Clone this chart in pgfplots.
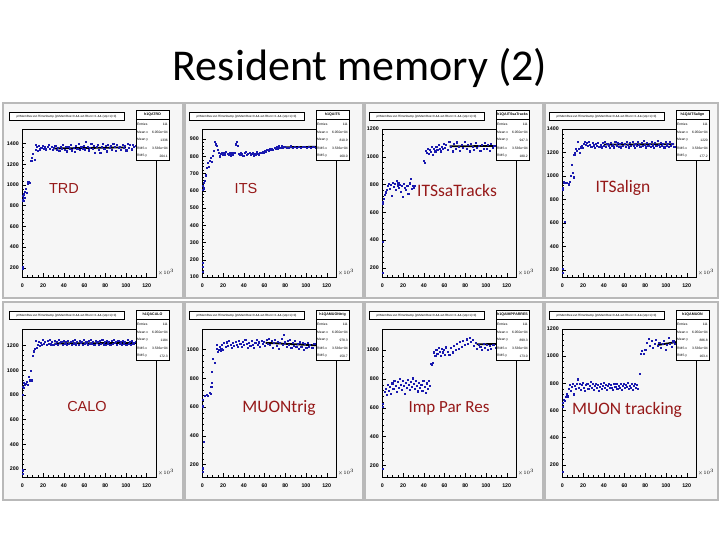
\documentclass[border=0pt]{standalone}
\usepackage{fontspec}
\setmainfont{Liberation Sans}
\newfontfamily\calibri{Carlito}
\usepackage{pgfplots}
\pgfplotsset{compat=1.18}
\definecolor{ptblue}{RGB}{25,25,175}
\definecolor{lab}{RGB}{150,25,25}
\definecolor{padbg}{RGB}{246,246,246}
\definecolor{padedge}{RGB}{185,185,185}

\pgfplotsset{
 rootax/.style={
  scale only axis, width=133.7pt, height=148pt, anchor=south west,
  xmin=0, xmax=129, xtick={0,20,...,120},
  minor x tick num=3, minor y tick num=4,
  tick align=inside, xtick pos=left, ytick pos=left,
  major tick length=3.5pt, minor tick length=1.8pt,
  every tick/.style={black, line width=0.35pt},
  axis line style={line width=0.45pt},
  ticklabel style={font=\fontsize{5.3}{6}\selectfont\bfseries, text=black},
  xticklabel style={yshift=-3pt},
  /pgf/number format/assume math mode=true,
  /pgf/number format/1000 sep={},
  clip=false,
 },
 pts/.style={only marks, mark=square*, mark size=0.55pt, color=ptblue, mark options={draw=ptblue, fill=ptblue}},
 blk/.style={black, line width=1.8pt, mark=none},
}

\newcommand{\xten}{\node[anchor=south west, font=\fontsize{5}{5}\selectfont, inner sep=0.3pt] at (rel axis cs:1.01,0.01) {$\times10^{3}$};}

\newcommand{\pad}[4]{\draw[padedge, line width=1.1pt, fill=padbg] (#1,#2) rectangle (#3,#4);}

\newcommand{\titlebox}[1]{%
 \begin{scope}[shift={#1}]
  \draw[line width=0.45pt, fill=white] (0,0) rectangle (115,-8.5);
  \node[font=\fontsize{3}{3}\selectfont, inner sep=0pt] at (57.5,-4.25) {pVMemRes:evt.fTimeStamp \{pVMemRes>0 \&\& evt.fRun==1 \&\& (stp+1)>0\}};
 \end{scope}}

\newcommand{\stats}[7]{%
 \begin{scope}[shift={#1}, font=\fontsize{3.3}{3.5}\selectfont]
  \fill[gray!60] (1.3,-51.3) rectangle (34.3,-1.3);
  \draw[line width=0.45pt, fill=white] (0,0) rectangle (33,-50);
  \draw[line width=0.3pt] (0,-9) -- (33,-9);
  \node[inner sep=0pt, font=\fontsize{3.6}{4}\selectfont\bfseries] at (16.5,-4.5) {#2};
  \node[anchor=west, inner sep=0pt] at (1,-14) {Entries};
  \node[anchor=east, inner sep=0pt] at (32,-14) {#3};
  \node[anchor=west, inner sep=0pt] at (1,-22) {Mean x};
  \node[anchor=east, inner sep=0pt] at (32,-22) {#4};
  \node[anchor=west, inner sep=0pt] at (1,-30) {Mean y};
  \node[anchor=east, inner sep=0pt] at (32,-30) {#5};
  \node[anchor=west, inner sep=0pt] at (1,-38) {RMS x};
  \node[anchor=east, inner sep=0pt] at (32,-38) {#6};
  \node[anchor=west, inner sep=0pt] at (1,-46) {RMS y};
  \node[anchor=east, inner sep=0pt] at (32,-46) {#7};
 \end{scope}}

\begin{document}
\begin{tikzpicture}[x=1pt,y=1pt]
\path[use as bounding box, fill=white] (0,0) rectangle (720,540);

\node[font=\calibri\fontsize{44}{48}\selectfont] at (360,472) {Resident memory (2)};

% pads
\pad{3}{242}{183}{437}
\pad{185}{242}{363}{437}
\pad{365}{242}{543}{437}
\pad{545}{242}{718}{437}
\pad{3}{40}{183}{238}
\pad{185}{40}{363}{238}
\pad{365}{40}{543}{238}
\pad{545}{40}{718}{238}

% ---------- TRD ----------
\begin{axis}[rootax, at={(22.3pt,263pt)}, ymin=110, ymax=1540, ytick={200,400,...,1400}]
\addplot[pts] coordinates {(0.2,205) (0.4,190) (0.3,860) (0.6,895) (0.9,850) (1.3,910) (1.8,880) (2.5,935) (3.2,960) (4.0,925) (4.8,1030) (5.6,1015) (6.5,1030) (7.4,1020) (8.6,1230) (9.5,1265) (10.4,1300) (11.6,1245) (12.5,1390) (13.3,1340) (14.2,1365) (15.0,1330) (16.1,1375) (17.0,1345) (18.2,1360) (19.5,1380) (20.6,1350) (21.8,1372) (23.0,1345) (24.3,1365) (25.5,1385) (26.7,1352) (28.0,1368) (29.2,1340) (30.5,1360) (31.7,1375) (33.0,1338) (34.4,1362) (35.6,1330) (36.8,1368) (38.1,1350) (39.3,1385) (40.6,1342) (41.8,1366) (43.1,1325) (44.3,1372) (45.6,1348) (46.8,1390) (48.0,1335) (49.3,1362) (50.5,1318) (51.8,1375) (53.0,1350) (54.3,1395) (55.5,1340) (56.8,1368) (58.0,1352) (59.3,1382) (60.5,1345) (61.5,1420) (62.8,1372) (64.0,1335) (65.3,1362) (66.5,1395) (67.8,1348) (69.0,1375) (70.2,1310) (71.5,1365) (72.7,1390) (74.0,1342) (75.2,1308) (76.5,1370) (77.7,1398) (79.0,1352) (80.2,1380) (81.5,1325) (82.7,1392) (84.0,1358) (85.2,1375) (86.5,1340) (87.7,1398) (89.0,1365) (90.2,1330) (91.5,1385) (92.7,1355) (94.0,1372) (95.2,1340) (96.5,1392) (97.7,1358) (99.0,1378) (100.2,1335) (101.5,1400) (102.7,1360) (104.0,1385) (105.2,1345) (106.5,1390) (107.7,1365) (109.0,1380) (110.2,1350)};
\addplot[blk] coordinates {(30,1352) (100,1362)};
\xten
\end{axis}

% ---------- ITS ----------
\begin{axis}[rootax, at={(202.3pt,263pt)}, ymin=100, ymax=958, ytick={100,200,...,900}]
\addplot[pts] coordinates {(0.2,130) (0.3,160) (0.5,185) (0.3,605) (0.6,630) (1.0,645) (1.5,615) (2.2,660) (3.0,690) (4.5,735) (5.5,760) (6.3,740) (7.2,775) (8.1,790) (9.0,770) (10.0,805) (11.0,830) (12.0,885) (13.0,870) (14.0,860) (15.0,840) (15.8,820) (16.8,800) (17.8,815) (18.8,822) (19.8,808) (21.0,818) (22.0,812) (23.0,825) (24.2,815) (25.3,810) (26.4,820) (27.5,806) (28.6,818) (29.7,812) (30.8,822) (32.0,870) (33.0,885) (33.8,860) (34.8,815) (36.0,808) (37.2,820) (38.4,812) (39.5,805) (40.6,818) (41.8,826) (43.0,810) (44.1,815) (45.3,822) (46.4,808) (47.6,814) (48.7,820) (49.8,806) (51.0,812) (52.2,824) (53.3,816) (54.5,810) (55.6,822) (56.8,818) (58.0,826) (59.1,820) (60.3,832) (61.4,826) (62.6,838) (63.7,830) (64.9,842) (66.0,836) (67.2,846) (68.3,838) (69.5,850) (70.6,842) (71.8,856) (72.9,846) (74.1,858) (75.2,848) (76.4,860) (77.5,852) (79,855) (81,848) (83,852) (85,858) (87,850) (89,855) (91,852) (93,856) (95,850) (97,853) (99,857) (101,851) (103,854) (105,850) (107,856) (109,852)};
\addplot[blk] coordinates {(77,852) (112,855)};
\xten
\end{axis}

% ---------- ITSsaTracks ----------
\begin{axis}[rootax, at={(382.3pt,263pt)}, ymin=135, ymax=1200, ytick={200,400,...,1200}]
\addplot[pts] coordinates {(0.2,165) (0.4,390) (0.3,665) (0.6,680) (1.2,700) (2.0,725) (3.0,745) (4.2,760) (5.0,790) (6.0,805) (7.0,770) (8.0,800) (9.0,720) (10.0,815) (10.8,785) (11.8,805) (12.6,760) (13.5,825) (14.5,795) (15.3,810) (16.2,775) (17.0,800) (18.0,750) (19.0,790) (20.0,710) (21.0,805) (22.0,780) (23.0,760) (24.0,795) (25.0,735) (26.0,810) (27.0,845) (28.0,770) (29.0,790) (30.0,775) (31.0,795) (40.0,975) (41.0,960) (42.0,1045) (43.0,1030) (44.0,1060) (45.0,1020) (46.0,1050) (47.0,1035) (48.0,1075) (49.0,1015) (50.0,1055) (51.0,1040) (52.0,1070) (53.0,1050) (54.0,1085) (55.0,1060) (56.0,1040) (57.0,1075) (58.0,1055) (59.0,1095) (60.0,1065) (61.5,1085) (63.0,1050) (64.5,1110) (66.0,1070) (67.5,1040) (69.0,1095) (70.5,1060) (72.0,1105) (73.5,1075) (75.0,1045) (76.5,1090) (78.0,1065) (79.5,1110) (81.0,1055) (82.5,1085) (84.0,1040) (85.5,1095) (87.0,1070) (88.5,1050) (90.0,1100) (91.5,1065) (93.0,1080) (94.5,1045) (96.0,1090) (97.5,1060) (99.0,1100) (100.5,1055) (102.0,1085) (103.5,1045) (105.0,1095) (106.5,1065) (108,1080) (110,1055)};
\addplot[blk] coordinates {(65,1075) (110,1078)};
\xten
\end{axis}

% ---------- ITSalign ----------
\begin{axis}[rootax, at={(562.3pt,263pt)}, ymin=140, ymax=1400, ytick={200,400,...,1400}]
\addplot[pts] coordinates {(0.2,180) (0.4,210) (0.3,880) (0.6,900) (1.0,940) (1.6,950) (2.4,610) (3.2,945) (4.5,940) (6.0,930) (7.0,955) (8.2,1000) (9.0,1095) (9.8,1030) (10.6,990) (11.5,1180) (12.3,1200) (13.2,1230) (14.0,1215) (14.8,1290) (15.7,1235) (16.6,1195) (17.5,1245) (18.5,1260) (19.5,1240) (20.5,1275) (21.5,1295) (22.5,1265) (23.6,1280) (24.6,1255) (25.7,1290) (26.8,1270) (27.9,1248) (29.0,1285) (30.1,1262) (31.2,1240) (32.3,1278) (33.4,1258) (34.5,1285) (35.6,1250) (36.7,1270) (37.8,1245) (38.9,1282) (40.0,1260) (41.1,1295) (42.2,1248) (43.3,1275) (44.4,1262) (45.5,1240) (46.6,1285) (47.7,1258) (48.8,1270) (49.9,1245) (51.0,1290) (52.1,1262) (53.2,1280) (54.3,1250) (55.4,1272) (56.5,1245) (57.6,1285) (58.7,1260) (59.8,1275) (60.9,1252) (62.0,1290) (63.1,1268) (64.2,1245) (65.3,1280) (66.4,1258) (67.5,1295) (68.6,1262) (69.7,1240) (70.8,1278) (71.9,1255) (73.0,1288) (74.1,1265) (75.2,1248) (76.3,1282) (77.4,1260) (78.5,1298) (79.6,1270) (80.7,1245) (81.8,1285) (82.9,1258) (84.0,1275) (85.1,1250) (86.2,1292) (87.3,1262) (88.4,1240) (89.5,1280) (90.6,1255) (91.7,1300) (92.8,1268) (93.9,1248) (95.0,1285) (96.1,1260) (97.2,1278) (98.3,1245) (99.4,1290) (100.5,1262) (101.6,1272) (102.7,1250) (103.8,1288) (104.9,1258) (106,1275) (108,1250) (110,1285)};
\addplot[blk] coordinates {(40,1268) (108,1270)};
\xten
\end{axis}

% ---------- CALO ----------
\begin{axis}[rootax, at={(22.3pt,63pt)}, ymin=135, ymax=1335, ytick={200,400,...,1200}]
\addplot[pts] coordinates {(0.2,160) (0.4,190) (0.3,805) (0.6,870) (1.0,900) (1.6,860) (2.4,880) (3.3,890) (4.5,905) (5.5,880) (6.5,945) (7.5,920) (8.4,995) (9.4,920) (10.3,1115) (11.2,1155) (12.1,1175) (13.0,1237) (14.0,1185) (15.0,1210) (16.0,1232) (17.0,1200) (18.0,1225) (19.0,1205) (20.0,1245) (21.0,1215) (22.0,1232) (23.2,1205) (24.3,1238) (25.4,1218) (26.5,1250) (27.6,1212) (28.7,1230) (29.8,1205) (30.9,1240) (32.0,1218) (33.1,1232) (34.2,1208) (35.3,1245) (36.4,1222) (37.5,1235) (38.6,1210) (39.7,1240) (40.8,1215) (41.9,1228) (43.0,1205) (44.1,1242) (45.2,1218) (46.3,1232) (47.4,1208) (48.5,1238) (49.6,1220) (50.7,1248) (51.8,1212) (52.9,1230) (54.0,1205) (55.1,1240) (56.2,1222) (57.3,1235) (58.4,1210) (59.5,1245) (60.6,1218) (61.7,1228) (62.8,1205) (63.9,1240) (65.0,1215) (66.1,1250) (67.2,1220) (68.3,1235) (69.4,1208) (70.5,1240) (71.6,1222) (72.7,1230) (73.8,1205) (74.9,1238) (76.0,1218) (77.1,1248) (78.2,1212) (79.3,1232) (80.4,1205) (81.5,1242) (82.6,1220) (83.7,1230) (84.8,1208) (85.9,1238) (87.0,1215) (88.1,1245) (89.2,1222) (90.3,1232) (91.4,1205) (92.5,1240) (93.6,1218) (94.7,1228) (95.8,1208) (96.9,1242) (98.0,1220) (99.1,1235) (100.2,1210) (101.3,1245) (102.4,1218) (103.5,1230) (104.6,1205) (105.7,1240) (107,1220) (109,1232)};
\addplot[blk] coordinates {(31,1218) (110,1222)};
\xten
\end{axis}

% ---------- MUONtrig ----------
\begin{axis}[rootax, at={(202.3pt,63pt)}, ymin=114, ymax=1142, ytick={200,400,...,1000}]
\addplot[pts] coordinates {(0.2,150) (0.4,175) (1.5,360) (0.3,600) (0.5,612) (0.3,648) (2.5,680) (4.0,688) (5.5,676) (7.0,700) (8.2,690) (8.6,742) (9.0,772) (9.5,845) (10.0,936) (12.0,910) (13.5,1005) (14.2,1030) (15.0,985) (15.8,1000) (16.6,1020) (17.4,990) (18.2,1008) (19.0,1035) (20.0,1000) (21.0,1045) (22.2,1020) (23.4,1050) (24.6,1028) (25.8,1058) (27.0,1035) (28.2,1012) (29.4,1048) (30.6,1025) (31.8,1055) (33.0,1032) (34.2,1018) (35.4,1060) (36.6,1038) (37.8,1022) (39.0,1052) (40.2,1030) (41.4,1065) (42.6,1040) (43.8,1015) (45.0,1048) (46.2,1028) (47.4,1058) (48.6,1035) (49.8,1012) (51.0,1045) (52.2,1070) (53.4,1032) (54.6,1050) (55.8,1020) (57.0,1062) (58.2,1038) (59.4,1055) (60.6,1025) (61.8,1068) (63.0,1042) (64.2,1075) (65.4,1030) (66.6,1058) (67.8,1012) (69.0,1048) (70.2,1066) (71.4,1028) (72.6,1052) (73.8,1008) (75.0,1045) (76.2,1072) (77.4,1035) (78.6,1105) (79.8,1050) (81.0,1022) (82.2,1058) (83.4,1030) (84.6,1065) (85.8,1010) (87.0,1045) (88.2,1028) (89.4,1060) (90.6,1018) (91.8,1040) (93.0,1005) (94.2,1050) (95.4,1022) (96.6,1045) (97.8,1000) (99.0,1038) (100.2,1012) (101.4,1048) (102.6,1020) (104,1035) (106,1010) (108,1042) (110,1018)};
\addplot[blk] coordinates {(61,1046) (111,1028)};
\xten
\end{axis}

% ---------- ImpParRes ----------
\begin{axis}[rootax, at={(382.3pt,63pt)}, ymin=120, ymax=1146, ytick={200,400,...,1000}]
\addplot[pts] coordinates {(0.2,180) (0.3,610) (0.5,625) (2.5,710) (3.5,735) (4.5,690) (5.5,760) (6.5,720) (7.5,745) (8.5,700) (9.5,770) (10.5,730) (11.5,790) (12.5,755) (13.5,710) (14.5,780) (15.5,740) (16.5,800) (17.5,760) (18.5,725) (19.5,785) (20.5,750) (21.5,700) (22.5,775) (23.5,740) (24.5,795) (25.5,760) (26.5,725) (27.5,780) (28.5,745) (29.5,805) (30.5,765) (31.5,730) (32.5,790) (33.5,750) (34.5,715) (35.5,775) (36.5,740) (37.5,760) (38.5,720) (39.5,785) (40.5,745) (41.5,705) (42.5,770) (43.5,735) (44.5,790) (45.5,750) (47.0,905) (48.0,900) (49.0,915) (50.0,985) (51.0,960) (52.0,1005) (53.0,975) (54.0,1015) (55.0,990) (56.0,960) (57.0,1010) (58.0,985) (59.0,1000) (60.0,970) (61.5,1020) (63.0,990) (64.5,965) (66.0,1015) (67.5,985) (69.0,1030) (70.5,1000) (72.0,1045) (73.5,1010) (75.0,1055) (76.5,1025) (78.0,1065) (79.5,1035) (81.0,1075) (82.5,1045) (84.0,1085) (85.5,1055) (87.0,1070) (88.5,1030) (90.0,1050) (91.5,1010) (93.0,1040) (94.5,1025) (96.0,1005) (97.5,1045) (99.0,1015) (100.5,1035) (102.0,1000) (103.5,1030) (105.0,1010) (107,1040) (109,1015)};
\addplot[blk] coordinates {(91,1040) (111,1042)};
\xten
\end{axis}

% ---------- MUON tracking ----------
\begin{axis}[rootax, at={(562.3pt,63pt)}, ymin=110, ymax=1200, ytick={200,400,...,1200}]
\addplot[pts] coordinates {(0.2,150) (0.3,630) (0.6,655) (1.2,680) (2.0,670) (3.0,700) (4.0,720) (5.0,705) (6.0,760) (7.0,790) (8.0,745) (9.0,775) (10.0,800) (11.0,720) (12.0,785) (13.0,760) (14.0,800) (15.0,830) (16.0,770) (17.0,800) (18.0,750) (19.0,790) (20.0,805) (21.0,770) (22.0,745) (23.0,790) (24.0,800) (25.0,760) (26.0,785) (27.0,810) (28.0,770) (29.0,795) (30.0,750) (31.0,780) (32.0,800) (33.0,765) (34.0,790) (35.0,745) (36.0,775) (37.0,800) (38.0,760) (39.0,785) (40.0,805) (41.0,770) (42.0,790) (43.0,755) (44.0,780) (45.0,800) (46.0,765) (47.0,790) (48.0,770) (49.0,750) (50.0,795) (51.0,775) (52.0,800) (53.0,760) (54.0,785) (55.0,770) (56.0,795) (57.0,755) (58.0,780) (59.0,800) (60.0,765) (61.0,790) (62.0,775) (63.0,805) (64.0,760) (65.0,785) (66.0,770) (67.0,795) (68.0,750) (69.0,780) (70.0,800) (71.0,770) (72.0,790) (73.0,760) (74.5,868) (75.5,1020) (77.0,1040) (78.5,1020) (80.0,1045) (81.5,1100) (83.0,1130) (84.5,1080) (86.0,1115) (87.5,1060) (89.0,1095) (90.5,1120) (92.0,1075) (93.5,1100) (95.0,1060) (96.5,1090) (98.0,1115) (99.5,1050) (101.0,1085) (102.5,1135) (104.0,1095) (105.5,1070) (107.0,1110) (108.5,1090) (110,1100)};
\addplot[blk] coordinates {(92,1082) (111,1105)};
\xten
\end{axis}

% title boxes
\titlebox{(9,428)}
\titlebox{(189,428)}
\titlebox{(369,428)}
\titlebox{(549,428)}
\titlebox{(9,229)}
\titlebox{(189,229)}
\titlebox{(369,229)}
\titlebox{(549,229)}

% stats boxes
\stats{(136,430)}{h1QATRD}{111}{6.050e+04}{1336}{3.536e+04}{204.1}
\stats{(316,430)}{h1QAITS}{111}{6.050e+04}{810.9}{3.536e+04}{160.0}
\stats{(496,430)}{h1QAITSsaTracks}{111}{6.050e+04}{947.3}{3.536e+04}{180.2}
\stats{(676,430)}{h1QAITSalign}{111}{6.050e+04}{1220}{3.536e+04}{177.2}
\stats{(136,230)}{h1QACALO}{111}{6.050e+04}{1184}{3.536e+04}{172.3}
\stats{(316,230)}{h1QAMUONtrig}{111}{6.050e+04}{978.3}{3.536e+04}{150.7}
\stats{(496,230)}{h1QAIMPPARRES}{111}{6.050e+04}{899.3}{3.536e+04}{173.0}
\stats{(676,230)}{h1QAMUON}{111}{6.050e+04}{886.8}{3.536e+04}{163.4}

% panel labels
\node[text=lab, font=\fontsize{14.5}{16}\selectfont] at (64,351) {TRD};
\node[text=lab, font=\fontsize{14.5}{16}\selectfont] at (246,351) {ITS};
\node[text=lab, font=\calibri\fontsize{17.5}{19}\selectfont] at (457,350) {ITSsaTracks};
\node[text=lab, font=\calibri\fontsize{17.5}{19}\selectfont] at (623,352) {ITSalign};
\node[text=lab, font=\fontsize{14.5}{16}\selectfont] at (87,133) {CALO};
\node[text=lab, font=\calibri\fontsize{17.5}{19}\selectfont] at (279,132) {MUONtrig};
\node[text=lab, font=\calibri\fontsize{17}{19}\selectfont] at (449,132) {Imp Par Res};
\node[text=lab, font=\calibri\fontsize{17.5}{19}\selectfont] at (627,130) {MUON tracking};
\end{tikzpicture}
\end{document}
